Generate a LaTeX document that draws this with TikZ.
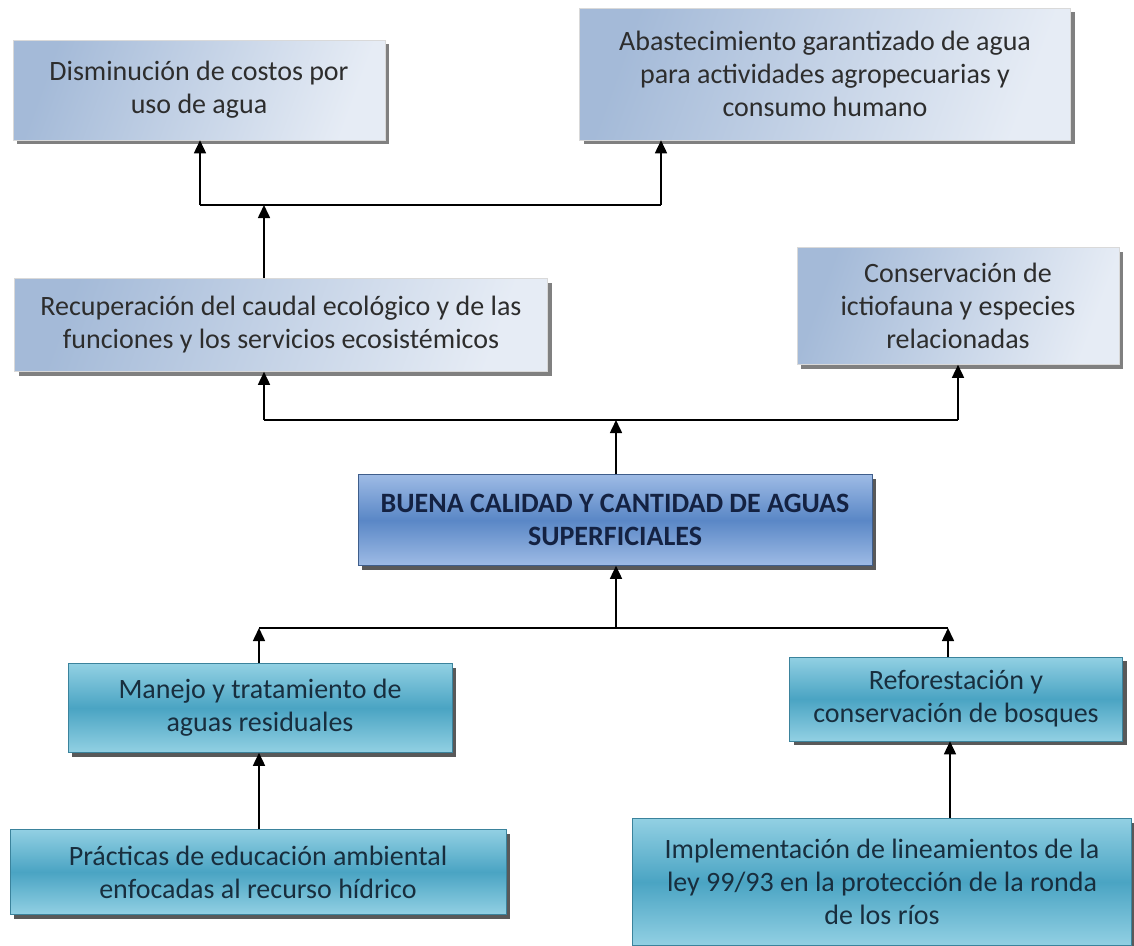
\documentclass[tikz,border=0pt]{standalone}
\usepackage{fontspec}
\setmainfont{Carlito}
\usetikzlibrary{arrows.meta}
\usetikzlibrary{shadows}

\definecolor{pale dark}{RGB}{164,186,216}
\definecolor{pale light}{RGB}{230,236,245}
\definecolor{core dark}{RGB}{90,135,198}
\definecolor{core light}{RGB}{158,187,229}
\definecolor{teal dark}{RGB}{74,164,195}
\definecolor{teal light}{RGB}{146,208,227}
\definecolor{ink}{RGB}{45,45,45}
\definecolor{navy ink}{RGB}{20,34,66}
\definecolor{teal ink}{RGB}{24,46,62}

\tikzset{
  effectbox/.style={rectangle, draw=white!70!gray, line width=0.6pt, inner sep=0pt,
    left color=pale dark, right color=pale light, shading angle=70,
    drop shadow={shadow xshift=4pt, shadow yshift=-4pt, fill=black!50, opacity=1},
    text=ink, align=center, font=\fontsize{28}{33}\selectfont},
  corebox/.style={rectangle, draw=core dark!70!black, line width=0.6pt, inner sep=0pt,
    top color=core light, bottom color=core light, middle color=core dark,
    drop shadow={shadow xshift=4pt, shadow yshift=-4pt, fill=black!65, opacity=1},
    text=navy ink, align=center, font=\fontsize{28}{33}\selectfont\bfseries},
  causebox/.style={rectangle, draw=teal dark!80!black, line width=0.6pt, inner sep=0pt,
    top color=teal light, bottom color=teal light, middle color=teal dark,
    drop shadow={shadow xshift=4pt, shadow yshift=-4pt, fill=black!65, opacity=1},
    text=teal ink, align=center, font=\fontsize{28}{33}\selectfont},
  link/.style={line width=1.6pt, draw=black},
  uplink/.style={link, -{Triangle[length=13pt,width=12pt]}}
}

\begin{document}
\begin{tikzpicture}[x=1pt,y=1pt,yscale=-1,xscale=1]
\useasboundingbox (0,0) rectangle (1134,945);

% effects
\node [effectbox, minimum width=372, minimum height=100] (costos) at (199,90) {Disminución de costos por\\uso de agua};
\node [effectbox, minimum width=491, minimum height=132] (abasto) at (825,74) {Abastecimiento garantizado de agua\\para actividades agropecuarias y\\consumo humano};
\node [effectbox, minimum width=533, minimum height=93] (caudal) at (281,325) {Recuperación del caudal ecológico y de las\\funciones y los servicios ecosistémicos};
\node [effectbox, minimum width=322, minimum height=117] (ictio) at (958,306) {Conservación de\\ictiofauna y especies\\relacionadas};

% central problem
\node [corebox, minimum width=514, minimum height=91] (aguas) at (615,520) {BUENA CALIDAD Y CANTIDAD DE AGUAS\\SUPERFICIALES};

% causes
\node [causebox, minimum width=384, minimum height=89] (manejo) at (260,708) {Manejo y tratamiento de\\aguas residuales};
\node [causebox, minimum width=333, minimum height=84] (bosques) at (956,699) {Reforestación y\\conservación de bosques};
\node [causebox, minimum width=496, minimum height=85] (practicas) at (258,872) {Prácticas de educación ambiental\\enfocadas al recurso hídrico};
\node [causebox, minimum width=499, minimum height=127] (ley) at (882,882) {Implementación de lineamientos de la\\ley 99/93 en la protección de la ronda\\de los ríos};

% junction points
\coordinate (top left) at (200,205);
\coordinate (top mid) at (264,205);
\coordinate (top right) at (661,205);
\coordinate (mid left) at (264,420);
\coordinate (mid mid) at (616,420);
\coordinate (mid right) at (958,420);
\coordinate (low left) at (259,628);
\coordinate (low mid) at (616,628);
\coordinate (low right) at (948,628);

%Straight Lines top
\draw [link] (top left) -- (top right);
\draw [uplink] (top left) -- (top left |- costos.south);
\draw [uplink] (top right) -- (top right |- abasto.south);
\draw [uplink] (top mid |- caudal.north) -- (top mid);

%Straight Lines middle
\draw [link] (mid left) -- (mid right);
\draw [uplink] (mid left) -- (mid left |- caudal.south);
\draw [uplink] (mid right) -- (mid right |- ictio.south);
\draw [uplink] (mid mid |- aguas.north) -- (mid mid);

%Straight Lines bottom
\draw [link] (low left) -- (low right);
\draw [uplink] (low left |- manejo.north) -- (low left);
\draw [uplink] (low right |- bosques.north) -- (low right);
\draw [uplink] (low mid) -- (low mid |- aguas.south);
\draw [uplink] (low left |- practicas.north) -- (low left |- manejo.south);
\draw [uplink] ([xshift=2pt]low right |- ley.north) -- ([xshift=2pt]low right |- bosques.south);

\end{tikzpicture}
\end{document}
